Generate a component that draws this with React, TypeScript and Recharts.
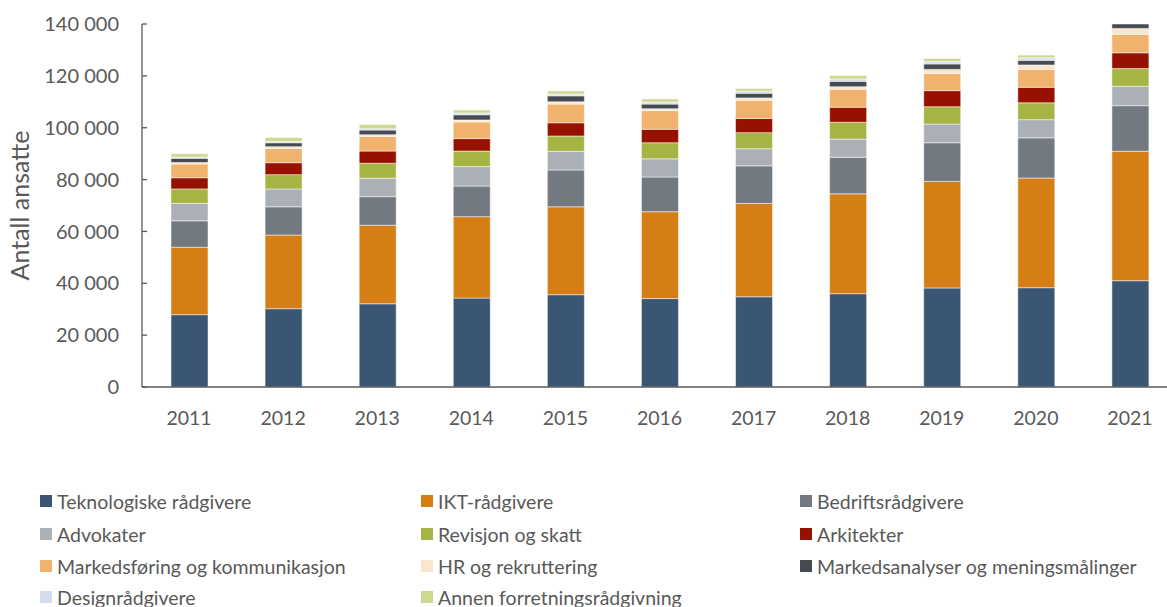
import React from "react";
import { BarChart, Bar, XAxis, YAxis } from "recharts";

const years = ["2011", "2012", "2013", "2014", "2015", "2016", "2017", "2018", "2019", "2020", "2021"];

const teknologiske = [27900, 30200, 32100, 34300, 35600, 34100, 34800, 36000, 38200, 38300, 41000];
const ikt = [26000, 28400, 30300, 31400, 33900, 33500, 36000, 38500, 41100, 42300, 49900];
const bedrifts = [10200, 10900, 11000, 11800, 14200, 13400, 14500, 14100, 14900, 15500, 17600];
const advokater = [6700, 6900, 7100, 7500, 7200, 7000, 6600, 7000, 7200, 7000, 7500];
const revisjon = [5600, 5500, 5800, 6000, 5900, 6200, 6200, 6500, 6700, 6500, 6800];
const arkitekter = [4300, 4600, 4700, 4800, 5100, 5200, 5500, 5800, 6200, 6000, 6100];
const markedsforing = [5300, 5500, 5600, 6400, 7200, 7200, 7000, 6900, 6600, 6900, 7100];
const hr = [600, 700, 700, 800, 900, 700, 900, 1000, 1600, 1700, 2300];
const markedsanalyser = [1600, 1500, 1800, 2000, 2300, 1800, 1800, 2100, 2100, 1800, 1700];
const design = [500, 500, 500, 700, 700, 800, 800, 900, 900, 1000, 0];
const annen = [1300, 1500, 1600, 1100, 1200, 1200, 1000, 1300, 1200, 1000, 0];

const yTicks = [0, 20000, 40000, 60000, 80000, 100000, 120000, 140000];

const series = [
  { key: "tek", name: "Teknologiske rådgivere", values: teknologiske, color: "#3A5673" },
  { key: "ikt", name: "IKT-rådgivere", values: ikt, color: "#D67E16" },
  { key: "bed", name: "Bedriftsrådgivere", values: bedrifts, color: "#727981" },
  { key: "adv", name: "Advokater", values: advokater, color: "#AAB0B6" },
  { key: "rev", name: "Revisjon og skatt", values: revisjon, color: "#A6B443" },
  { key: "ark", name: "Arkitekter", values: arkitekter, color: "#961100" },
  { key: "mark", name: "Markedsføring og kommunikasjon", values: markedsforing, color: "#F0B26C" },
  { key: "hr", name: "HR og rekruttering", values: hr, color: "#FBE5CD" },
  { key: "ma", name: "Markedsanalyser og meningsmålinger", values: markedsanalyser, color: "#454B51" },
  { key: "des", name: "Designrådgivere", values: design, color: "#D4DEEA" },
  { key: "annen", name: "Annen forretningsrådgivning", values: annen, color: "#CED88E" },
];

const data = years.map((year, i) => {
  const row: Record<string, string | number> = { year };
  series.forEach((s) => (row[s.key] = s.values[i]));
  return row;
});

const font = "Lato, 'Open Sans', sans-serif";
const textColor = "#595959";
const fmt = (v: number) => v.toLocaleString("en-US").replace(/,/g, " ");

const legendCols = [40, 421, 800];
const legendRows = [501, 534, 566, 597];

export default function App() {
  return (
    <div
      style={{
        position: "fixed",
        left: 0,
        top: 0,
        width: 1167,
        height: 607,
        overflow: "hidden",
        background: "#fff",
        fontFamily: font,
      }}
    >
      <BarChart
        width={1180}
        height={607}
        data={data}
        margin={{ top: 24, right: 3, left: 0, bottom: 190 }}
        barSize={37}
      >
        <XAxis
          dataKey="year"
          height={30}
          tickLine={false}
          tickSize={0}
          tickMargin={24}
          axisLine={{ stroke: "#595959", strokeWidth: 1.3 }}
          tick={{ fontSize: 19.5, fill: textColor, fontFamily: font }}
        />
        <YAxis
          width={142}
          domain={[0, 140000]}
          ticks={yTicks}
          tickFormatter={fmt}
          tickSize={-5}
          tickMargin={28}
          axisLine={{ stroke: "#595959", strokeWidth: 1.3 }}
          tickLine={{ stroke: "#595959", strokeWidth: 1.3 }}
          tick={{ fontSize: 20, fill: textColor, fontFamily: font }}
          label={{
            value: "Antall ansatte",
            angle: -90,
            position: "center",
            dx: -51,
            style: { fontSize: 25, fill: textColor, fontFamily: font, textAnchor: "middle" },
          }}
        />
        {series.map((s) => (
          <Bar
            key={s.key}
            dataKey={s.key}
            name={s.name}
            stackId="a"
            fill={s.color}
            stroke="#ffffff"
            strokeWidth={0.5}
            isAnimationActive={false}
          />
        ))}
      </BarChart>
      {series.map((s, i) => {
        const x = legendCols[i % 3];
        const y = legendRows[Math.floor(i / 3)];
        return (
          <div
            key={s.key}
            style={{
              position: "absolute",
              left: x,
              top: y - 12,
              height: 24,
              display: "flex",
              alignItems: "center",
              whiteSpace: "nowrap",
              fontSize: 19.5,
              color: textColor,
            }}
          >
            <span style={{ width: 12, height: 12, background: s.color, marginRight: 5, display: "inline-block" }} />
            {s.name}
          </div>
        );
      })}
    </div>
  );
}
